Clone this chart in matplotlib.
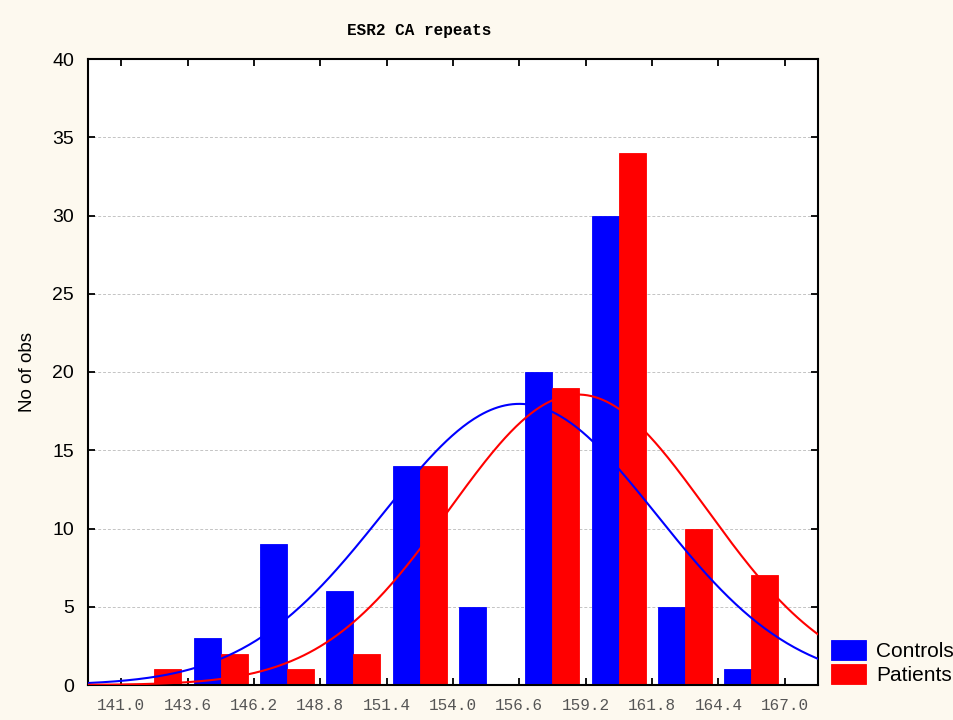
import numpy as np
import matplotlib
matplotlib.use("Agg")
import matplotlib.pyplot as plt

# Data
bin_edges = [141.0, 143.6, 146.2, 148.8, 151.4, 154.0, 156.6, 159.2, 161.8, 164.4, 167.0]
controls = [0, 3, 9, 6, 14, 5, 20, 30, 5, 1]
patients = [1, 2, 1, 2, 14, 0, 19, 34, 10, 7]
tick_labels = ["141.0", "143.6", "146.2", "148.8", "151.4", "154.0",
               "156.6", "159.2", "161.8", "164.4", "167.0"]
# fitted normal curve parameters
ctrl_mean, ctrl_sd = 156.6, 5.37
pat_mean, pat_sd = 158.9, 5.03

BG = "#FDF9EF"
fig = plt.figure(figsize=(9.54, 7.2), dpi=100, facecolor=BG)
ax = fig.add_axes([88/954, 35/720, (818-88)/954, (685-59)/720])
ax.set_facecolor("white")

edges = np.array(bin_edges)
bw = edges[1] - edges[0]
left = edges[:-1]
gap = bw * 6/66.4
barw = bw * 27/66.4
ax.bar(left + gap, controls, width=barw, align="edge", color="#0000FF",
       edgecolor="#0000FF", linewidth=0.6, zorder=2, label="Controls")
ax.bar(left + gap + barw, patients, width=barw, align="edge", color="#FF0000",
       edgecolor="#FF0000", linewidth=0.6, zorder=2, label="Patients")

xs = np.linspace(139.7, 168.3, 400)
def fit(n, m, s):
    return n * bw / (s * np.sqrt(2*np.pi)) * np.exp(-0.5*((xs - m)/s)**2)
ax.plot(xs, fit(sum(controls), ctrl_mean, ctrl_sd), color="#0000FF", lw=1.5, zorder=3)
ax.plot(xs, fit(sum(patients), pat_mean, pat_sd), color="#FF0000", lw=1.5, zorder=3)

ax.set_xlim(139.7, 168.3)
ax.set_ylim(0, 40)
ax.set_xticks(bin_edges)
ax.set_xticklabels(tick_labels, family="Liberation Mono", fontsize=11.5, color="#555555")
ax.set_yticks(range(0, 41, 5))
ax.set_yticklabels([str(v) for v in range(0, 41, 5)], family="Liberation Sans", fontsize=14)
ax.tick_params(direction="in", length=5, width=1.3, top=True, right=True)
ax.tick_params(axis="x", pad=9)
ax.tick_params(axis="y", pad=10)
ax.yaxis.grid(True, linestyle=(0, (3, 2)), color="#C4C4C4", lw=0.7)
ax.set_axisbelow(True)
for sp in ax.spines.values():
    sp.set_linewidth(1.5)
ax.set_ylabel("No of obs", family="Liberation Sans", fontsize=13.5, labelpad=12)

fig.text(419/954, 1 - 30/720, "ESR2 CA repeats", family="Liberation Mono",
         weight="bold", fontsize=11.5, ha="center", va="center")

leg = fig.legend(loc="lower left", bbox_to_anchor=(831/954, 35/720),
                 frameon=False, prop={"family": "Liberation Sans", "size": 15},
                 handlelength=1.7, handleheight=1.1, labelspacing=0.15,
                 handletextpad=0.45, borderpad=0, borderaxespad=0)

fig.savefig("out.png", dpi=100, facecolor=BG)
